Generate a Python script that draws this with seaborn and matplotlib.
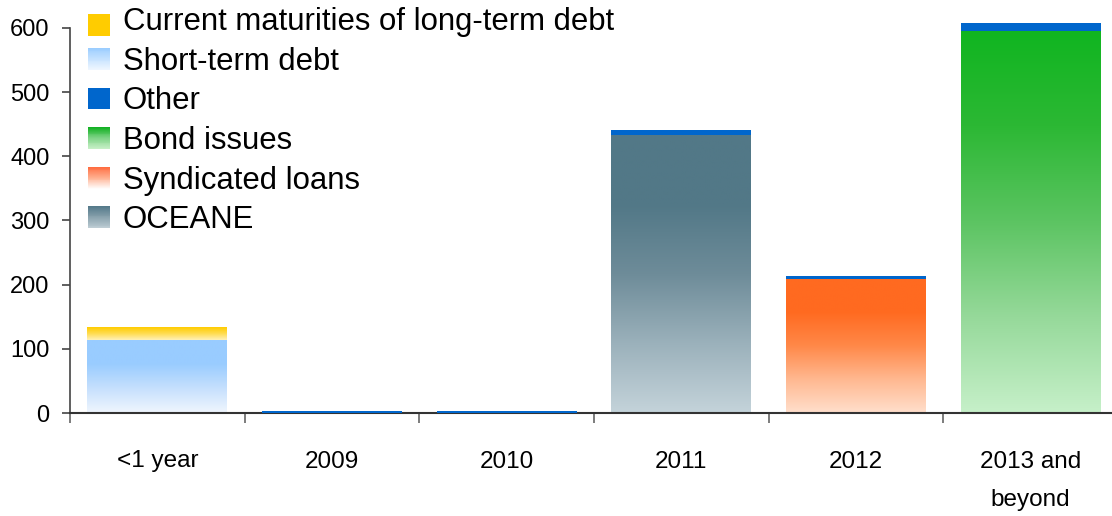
import numpy as np
import matplotlib
matplotlib.use("Agg")
import matplotlib.pyplot as plt
import seaborn as sns
from matplotlib.colors import LinearSegmentedColormap
from matplotlib.legend_handler import HandlerBase
from matplotlib.patches import Rectangle

# ---------------- data ----------------
categories = ["<1 year", "2009", "2010", "2011", "2012", "2013 and\nbeyond"]
short_term_debt = [114, 0, 0, 0, 0, 0]
current_maturities = [20, 0, 0, 0, 0, 0]
oceane = [0, 0, 0, 433, 0, 0]
syndicated_loans = [0, 0, 0, 0, 209, 0]
bond_issues = [0, 0, 0, 0, 0, 596]
other = [0, 3, 3, 8, 5, 12]
y_ticks = [0, 100, 200, 300, 400, 500, 600]

legend_labels = ["Current maturities of long-term debt", "Short-term debt", "Other",
                 "Bond issues", "Syndicated loans", "OCEANE"]

# gradient stops (bottom -> top)
grad = {
    "Short-term debt": ["#F0F6FE", "#C6E0FD", "#99CCFF", "#99CCFF"],
    "Current maturities of long-term debt": ["#FFF1B8", "#FFDC50", "#FFCC00"],
    "OCEANE": ["#C4D3DA", "#9BB1BB", "#6E8C99", "#527887", "#527887"],
    "Syndicated loans": ["#FFDFCC", "#FFB890", "#FF8848", "#FF6A20", "#FF6A20"],
    "Bond issues": ["#C6F0C9", "#96D99A", "#5CC462", "#2CB834", "#10B520"],
}
other_color = "#0066CC"

sns.set_theme(style="white")
plt.rcParams["font.family"] = ["Liberation Sans", "DejaVu Sans"]
plt.rcParams["text.color"] = "black"

W, H = 1112, 516
fig = plt.figure(figsize=(W / 100, H / 100), dpi=100)
ax = fig.add_axes([70 / W, 103 / H, 1048 / W, 413 / H])

def draw(values, bottom, name, solid=None):
    sns.barplot(x=categories, y=values, bottom=bottom, color=solid or "#888888",
                width=0.8, saturation=1, ax=ax, linewidth=0, order=categories)
    cont = ax.containers[-1]
    if solid is None:
        cmap = LinearSegmentedColormap.from_list(name, grad[name])
        for r in cont:
            h = r.get_height()
            if h <= 0:
                r.set_visible(False)
                continue
            x0, y0 = r.get_x(), r.get_y()
            ax.imshow(np.linspace(0, 1, 256).reshape(-1, 1), cmap=cmap, origin="lower",
                      extent=[x0, x0 + r.get_width(), y0, y0 + h], aspect="auto",
                      zorder=2, interpolation="bilinear")
            r.set_visible(False)
    else:
        for r in cont:
            if r.get_height() <= 0:
                r.set_visible(False)
            r.set_zorder(3)

zeros = np.zeros(len(categories))
base1 = np.array(short_term_debt) + np.array(oceane) + np.array(syndicated_loans) + np.array(bond_issues)
draw(short_term_debt, zeros, "Short-term debt")
draw(oceane, zeros, "OCEANE")
draw(syndicated_loans, zeros, "Syndicated loans")
draw(bond_issues, zeros, "Bond issues")
draw(current_maturities, base1, "Current maturities of long-term debt")
base2 = base1 + np.array(current_maturities)
draw(other, base2, "Other", solid=other_color)

ax.set_xlim(-0.5, 5.5)
ax.set_ylim(0, 413 / 0.6417)
ax.set_xlabel("")
ax.set_ylabel("")
ax.set_yticks(y_ticks)
ax.set_yticklabels([str(v) for v in y_ticks])
ax.set_xticks(range(len(categories)))
ax.set_xticklabels(categories)
for lab in ax.get_xticklabels():
    lab.set_linespacing(1.95)
ax.set_xticks(np.arange(-0.5, 5.6, 1.0), minor=True)

ax.tick_params(axis="x", which="major", length=0, pad=27, labelsize=17.5, labelcolor="black")
ax.tick_params(axis="x", which="minor", length=7.2, width=1.2, color="#666666", direction="out", bottom=True)
ax.tick_params(axis="y", which="major", length=5.8, width=1.2, color="#444444", direction="out",
               pad=9, labelsize=17, left=True, labelcolor="black")

for s in ["top", "right"]:
    ax.spines[s].set_visible(False)
ax.spines["left"].set_bounds(0, 600)
ax.spines["left"].set_color("#444444")
ax.spines["left"].set_linewidth(1.2)
ax.spines["bottom"].set_color("#333333")
ax.spines["bottom"].set_linewidth(1.5)
ax.grid(False)

# ---------------- legend ----------------
class GradHandler(HandlerBase):
    def __init__(self, stops, solid=None, shift=0.0):
        super().__init__()
        self.stops = stops
        self.solid = solid
        self.shift = shift

    def create_artists(self, legend, orig_handle, xdescent, ydescent, width, height, fontsize, trans):
        if self.solid is not None:
            return [Rectangle((-xdescent, -ydescent - self.shift), width, height,
                              fc=self.solid, ec="none", lw=0, transform=trans)]
        cmap = LinearSegmentedColormap.from_list("h", self.stops)
        n = 24
        arts = []
        for i in range(n):
            f = (i + 0.5) / n
            arts.append(Rectangle((-xdescent, -ydescent - self.shift + height * i / n), width,
                                  height / n * 1.15, fc=cmap(f), ec="none", lw=0, transform=trans))
        return arts

legend_stops = {
    "Current maturities of long-term debt": None,
    "Short-term debt": ["#F0F7FF", "#99CCFF"],
    "Other": None,
    "Bond issues": ["#C8F0C8", "#7FD487", "#10B020"],
    "Syndicated loans": ["#FFFFFF", "#FFB090", "#FF6A3D"],
    "OCEANE": ["#C0CFD6", "#8AA3AE", "#537889"],
}
solids = {"Current maturities of long-term debt": "#FFCC00", "Other": other_color}
handles = [Rectangle((0, 0), 1, 1) for _ in legend_labels]
hmap = {}
for h, lab in zip(handles, legend_labels):
    shift = 4.0 if lab.startswith("Current") else 0.0
    hmap[h] = GradHandler(legend_stops[lab], solids.get(lab), shift)

leg = ax.legend(handles, legend_labels, handler_map=hmap, loc="upper left",
                bbox_to_anchor=(88 / W, 1 - 7 / H), bbox_transform=fig.transFigure,
                frameon=False, fontsize=22.4, handlelength=0.7, handleheight=0.7,
                handletextpad=0.42, labelspacing=0.31, borderpad=0, borderaxespad=0)
for t in leg.get_texts():
    t.set_color("black")

fig.savefig("out.png", dpi=100)
